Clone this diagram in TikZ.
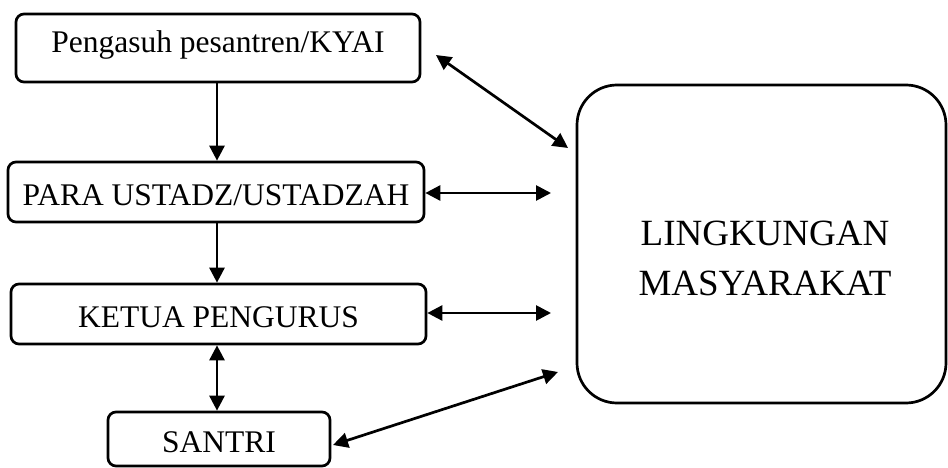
\documentclass[tikz,border=0pt]{standalone}
\usepackage{fontspec}
\setmainfont{Liberation Serif}
\usetikzlibrary{arrows.meta}
\begin{document}
\begin{tikzpicture}[x=1pt,y=-1pt,
  box/.style={draw,line width=2.7pt,rounded corners=8pt,inner sep=0pt,font=\fontsize{31.5}{36}\selectfont,text height=27pt,text depth=0pt},
  bigbox/.style={draw,line width=2.7pt,rounded corners=40pt,inner sep=0pt},
  link/.style={line width=2.7pt,{Triangle[length=15pt,width=15pt]}-{Triangle[length=15pt,width=15pt]}},
  oneway/.style={line width=2.7pt,-{Triangle[length=15pt,width=15pt]}}]
\useasboundingbox (0,0) rectangle (948,468);
\node[box,minimum width=404pt,minimum height=68pt,text height=21pt,text depth=11pt] (kyai) at (218,48) {Pengasuh pesantren/KYAI};
\node[box,minimum width=416pt,minimum height=60pt] (ustadz) at (216,192) {PARA USTADZ/USTADZAH};
\node[box,minimum width=415pt,minimum height=60pt] (ketua) at (218.5,314) {KETUA PENGURUS};
\node[box,minimum width=222pt,minimum height=54pt] (santri) at (219,439) {SANTRI};
\node[bigbox,minimum width=369pt,minimum height=318pt] (ling) at (761.5,244) {};
\node[font=\fontsize{37}{50}\selectfont,align=center,inner sep=0pt] (lingtext) at (765,258) {LINGKUNGAN\\MASYARAKAT};
\coordinate (kA) at (436,55);
\coordinate (kB) at (568,148);
\coordinate (uB) at (551,193);
\coordinate (tB) at (551,313);
\coordinate (sA) at (333,445);
\coordinate (sB) at (558,372);
\draw[oneway] (kyai.south -| 217,0) -- (ustadz.north -| 217,0);
\draw[oneway] (ustadz.south -| 217,0) -- (ketua.north -| 217,0);
\draw[link] (ketua.south -| 217,0) -- (santri.north -| 217,0);
\draw[link] (ustadz.east |- uB) -- (uB);
\draw[link] (ketua.east |- tB) -- (tB);
\draw[link] (kA) -- (kB);
\draw[link] (sA) -- (sB);
\end{tikzpicture}
\end{document}
